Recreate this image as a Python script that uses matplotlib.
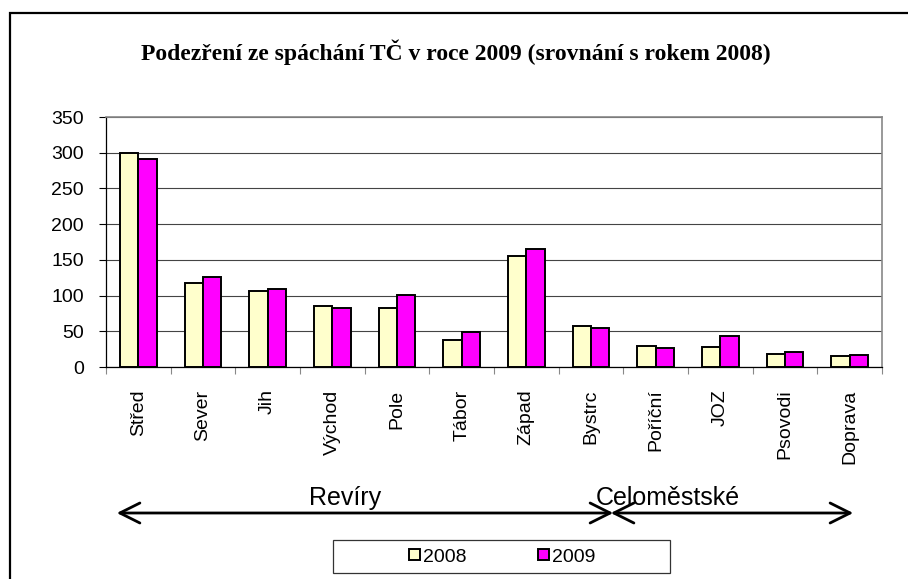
import numpy as np
import matplotlib
matplotlib.use("Agg")
import matplotlib.pyplot as plt
from matplotlib.patches import Rectangle, FancyArrowPatch

matplotlib.rc('font', family=['Liberation Sans', 'DejaVu Sans'], size=14)

categories = ["Střed", "Sever", "Jih", "Východ", "Pole", "Tábor", "Západ",
              "Bystrc", "Poříční", "JOZ", "Psovodi", "Doprava"]
v2008 = [300, 118, 107, 86, 83, 38, 156, 57, 29, 28, 18, 15]
v2009 = [291, 126, 109, 82, 101, 49, 165, 55, 26, 44, 21, 17]
yticks = [0, 50, 100, 150, 200, 250, 300, 350]

W, H = 908, 579
fig = plt.figure(figsize=(W / 100, H / 100), dpi=100)


def px(x, y):
    # pixel position (from top-left) -> figure fraction
    return x / W, 1 - y / H


# outer frame (runs off the right and bottom edges)
fig.patches.append(Rectangle((10 / W, -0.05), 1.0, 1 - 13 / H + 0.05,
                             transform=fig.transFigure, fill=False,
                             edgecolor='black', linewidth=1.6))

ax = fig.add_axes([106 / W, 1 - 367 / H, (882 - 106) / W, (367 - 117) / H])

x = np.arange(len(categories))
w = 0.286
ax.bar(x - w / 2, v2008, w, color='#FFFFCC', edgecolor='black', linewidth=1.4,
       label='2008', zorder=3)
ax.bar(x + w / 2, v2009, w, color='#FF00FF', edgecolor='black', linewidth=1.4,
       label='2009', zorder=3)

ax.set_xlim(-0.5, len(categories) - 0.5)
ax.set_ylim(0, 350)
ax.set_yticks(yticks)
ax.yaxis.grid(True, color='#444444', linewidth=0.8, zorder=0)
ax.tick_params(axis='y', direction='out', length=5, width=0.8, color='black',
               labelsize=14, pad=11)

ax.set_xticks(np.arange(len(categories) + 1) - 0.5)
ax.set_xticklabels([])
ax.tick_params(axis='x', direction='out', length=5, width=0.8, color='#888888')
for i, c in enumerate(categories):
    ax.text(i, -0.09, c, rotation=90, ha='center', va='top', fontsize=14,
            transform=ax.get_xaxis_transform())

for s in ['top', 'right']:
    ax.spines[s].set_color('#888888')
    ax.spines[s].set_linewidth(1.2)
for s in ['left', 'bottom']:
    ax.spines[s].set_color('black')
    ax.spines[s].set_linewidth(0.9)

fig.text(*px(456, 52),
         "Podezření ze spáchání TČ v roce 2009 (srovnání s rokem 2008)",
         ha='center', va='center', fontsize=17, fontweight='bold',
         family='Liberation Serif')

# group arrows
astyle = '<->,head_length=0.6,head_width=0.3'
fig.add_artist(FancyArrowPatch(px(114, 513), px(616, 513),
                               transform=fig.transFigure, arrowstyle=astyle,
                               mutation_scale=24, linewidth=2, color='black'))
fig.add_artist(FancyArrowPatch(px(608, 513), px(856, 513),
                               transform=fig.transFigure, arrowstyle=astyle,
                               mutation_scale=24, linewidth=2, color='black'))
fig.text(*px(345, 505), "Revíry", ha='center', va='baseline', fontsize=18)
fig.text(*px(668, 505), "Celoměstské", ha='center', va='baseline', fontsize=18)

# legend
fig.patches.append(Rectangle(px(333, 573), (670 - 333) / W, (573 - 540) / H,
                             transform=fig.transFigure, fill=False,
                             edgecolor='#333333', linewidth=0.9))
leg = fig.legend(loc='center', bbox_to_anchor=px(502, 557), ncol=2,
                 fontsize=14, frameon=False, handlelength=0.55,
                 handleheight=0.55, handletextpad=0.15, columnspacing=3.7,
                 borderpad=0, borderaxespad=0)

fig.savefig("out.png", dpi=100)
